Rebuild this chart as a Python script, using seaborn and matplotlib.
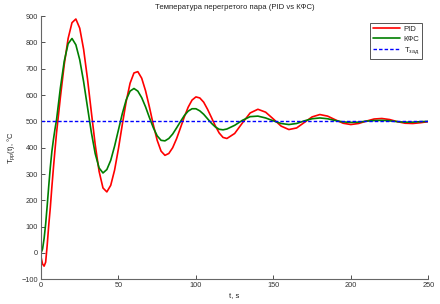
import matplotlib
matplotlib.use("Agg")
import matplotlib.pyplot as plt
import seaborn as sns
import pandas as pd

# ---- data ----
t = [0, 1, 2, 3, 4, 5, 6, 7, 8, 9, 10,
     12.5, 15, 17.5, 20, 22.5, 25, 27.5, 30, 32.5, 35, 37.5, 40,
     42.5, 45, 47.5, 50, 52.5, 55, 57.5, 60, 62.5, 65, 67.5, 70,
     72.5, 75, 77.5, 80, 82.5, 85, 87.5, 90, 92.5, 95, 97.5, 100,
     102.5, 105, 107.5, 110, 112.5, 115, 117.5, 120,
     125, 130, 135, 140, 145, 150, 155, 160, 165, 170, 175, 180,
     185, 190, 195, 200, 205, 210, 215, 220, 225, 230, 235, 240, 245, 250]

pid = [-15, -42, -50, -35, 30, 106, 172, 250, 322, 390, 455,
       591, 716, 815, 875, 889, 854, 774, 662, 535, 411, 310, 247,
       232, 257, 315, 397, 489, 576, 645, 684, 689, 664, 616, 554,
       487, 428, 387, 371, 378, 400, 434, 475, 517, 554, 581, 593,
       589, 573, 546, 515, 483, 456, 439, 435,
       454, 494, 532, 546, 535, 509, 482, 469, 475, 496, 517, 526,
       520, 506, 493, 488, 492, 501, 509, 511, 507, 499, 493, 492, 495, 499]

kfs = [0, 15, 55, 110, 180, 255, 325, 385, 430, 470, 505,
       627, 729, 795, 815, 791, 734, 651, 554, 458, 377, 323, 304,
       317, 352, 406, 468, 530, 582, 615, 625, 615, 590, 555, 514,
       476, 445, 428, 426, 435, 452, 475, 499, 522, 539, 548, 548,
       540, 527, 510, 493, 479, 470, 468, 471,
       485, 504, 518, 520, 513, 502, 492, 488, 492, 502, 510, 513,
       510, 503, 498, 496, 497, 501, 503, 504, 502, 499, 497, 497, 499, 500]

t_set = [0, 250]
t_zad = [500, 500]

labels = ["PID", "КФС", "T$_{зад}$"]
title = "Температура перегретого пара (PID vs КФС)"
xticks = [0, 50, 100, 150, 200, 250]
yticks = [-100, 0, 100, 200, 300, 400, 500, 600, 700, 800, 900]

# ---- style ----
sns.set_style("ticks")
plt.rcParams["font.family"] = ["Liberation Sans", "DejaVu Sans"]
plt.rcParams["mathtext.fontset"] = "custom"
plt.rcParams["mathtext.rm"] = "Liberation Sans"
plt.rcParams["mathtext.it"] = "Liberation Sans"
plt.rcParams["mathtext.default"] = "regular"

fig = plt.figure(figsize=(4.4, 3.04), dpi=100)
ax = fig.add_axes([0.0932, 0.0813, 0.8802, 0.8657])

df1 = pd.DataFrame({"t": t, "v": pid})
df2 = pd.DataFrame({"t": t, "v": kfs})
df3 = pd.DataFrame({"t": t_set, "v": t_zad})

sns.lineplot(data=df1, x="t", y="v", ax=ax, color="#ff0000", lw=1.2, label=labels[0])
sns.lineplot(data=df2, x="t", y="v", ax=ax, color="#007f00", lw=1.2, label=labels[1])
sns.lineplot(data=df3, x="t", y="v", ax=ax, color="#0000ff", lw=1.0,
             linestyle=(0, (2.5, 1.5)), label=labels[2])

ax.set_xlim(0, 250)
ax.set_ylim(-100, 900)
ax.set_xticks(xticks)
ax.set_yticks(yticks)
ax.tick_params(direction="in", length=3, width=0.6, labelsize=5.3,
               colors="#333333", pad=2)
for s in ["top", "right"]:
    ax.spines[s].set_visible(False)
for s in ["left", "bottom"]:
    ax.spines[s].set_color("#666666")
    ax.spines[s].set_linewidth(0.8)

ax.set_xlabel("t, s", fontsize=5.5, color="#222222", labelpad=2)
ax.set_ylabel("T$_{pp}$(t), °C", fontsize=5.5, color="#222222", labelpad=3)
ax.set_title(title, fontsize=5.6, color="#222222", pad=5)

leg = ax.legend(loc="upper right", bbox_to_anchor=(0.995, 0.99), fontsize=5.6,
                frameon=True, fancybox=False, framealpha=1, edgecolor="#555555",
                handlelength=3.4, handletextpad=0.5, borderpad=0.4,
                labelspacing=0.3)
leg.get_frame().set_linewidth(0.7)

fig.savefig("out.png", dpi=100)
